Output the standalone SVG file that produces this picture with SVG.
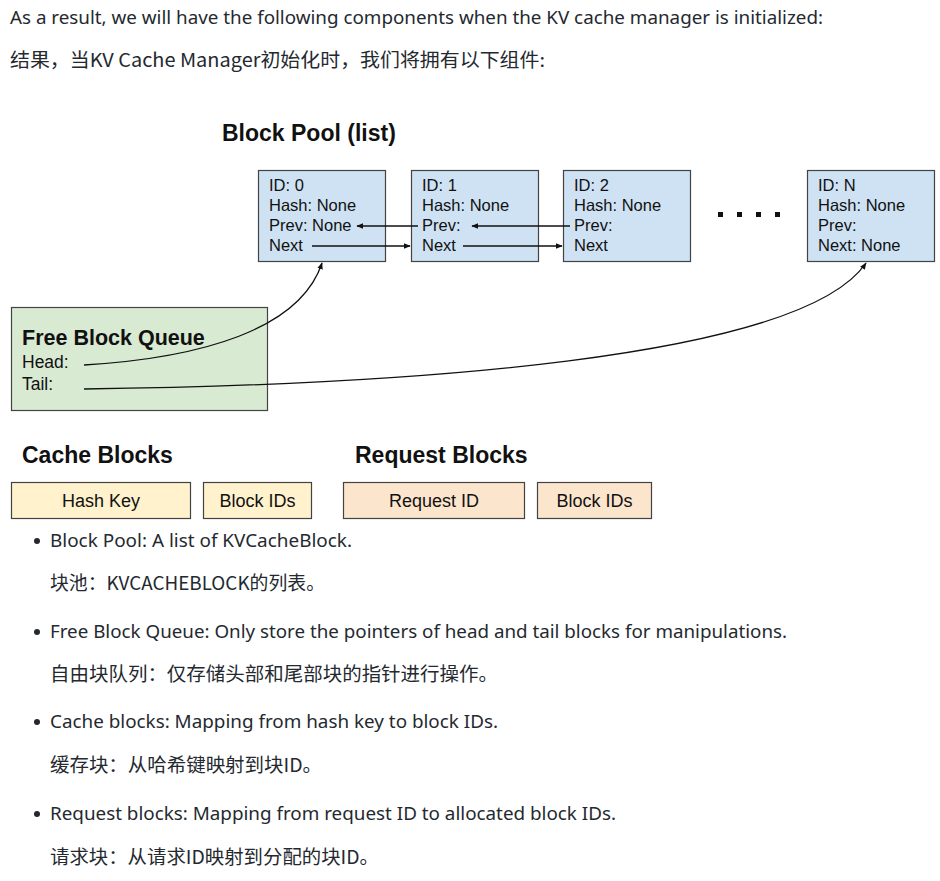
<svg xmlns="http://www.w3.org/2000/svg" width="940" height="881" viewBox="0 0 940 881">
<style>
.para{font-family:"Noto Sans","Noto Sans CJK SC",sans-serif;font-size:18.5px;fill:#24292f}
.cn{font-family:"Noto Sans CJK SC","Noto Sans",sans-serif;font-size:19px;fill:#24292f}
.box{fill:#cfe2f3;stroke:#434343;stroke-width:1.2}
.t{font-family:"Liberation Sans",Arial,sans-serif;font-size:16.5px;fill:#111}
.lbl{font-family:"Liberation Sans",Arial,sans-serif;font-size:18px;fill:#111}
.h{font-family:"Liberation Sans",Arial,sans-serif;font-size:23px;font-weight:bold;fill:#111}
.ln{stroke:#111;stroke-width:1.3;fill:none}
</style>
<defs>
<marker id="ah" viewBox="0 0 10 10" refX="9" refY="5" markerWidth="7" markerHeight="7" orient="auto" markerUnits="userSpaceOnUse">
<path d="M0,1 L10,5 L0,9 Z" fill="#111"/>
</marker>
</defs>
<rect width="940" height="881" fill="#fff"/>
<text class="para" x="10" y="24" textLength="813" lengthAdjust="spacingAndGlyphs">As a result, we will have the following components when the KV cache manager is initialized:</text>
<text class="cn" x="10" y="67" textLength="535" lengthAdjust="spacingAndGlyphs">结果，当KV Cache Manager初始化时，我们将拥有以下组件:</text>

<text class="h" x="222" y="141">Block Pool (list)</text>
<g id="block0"><rect class="box" x="258.5" y="170.5" width="127" height="91"/>
<text class="t" x="269" y="191">ID: 0</text><text class="t" x="269" y="211">Hash: None</text><text class="t" x="269" y="231">Prev: None</text><text class="t" x="269" y="251">Next</text></g>
<g id="block1"><rect class="box" x="411.5" y="170.5" width="127" height="91"/>
<text class="t" x="422" y="191">ID: 1</text><text class="t" x="422" y="211">Hash: None</text><text class="t" x="422" y="231">Prev:</text><text class="t" x="422" y="251">Next</text></g>
<g id="block2"><rect class="box" x="563.5" y="170.5" width="127" height="91"/>
<text class="t" x="574" y="191">ID: 2</text><text class="t" x="574" y="211">Hash: None</text><text class="t" x="574" y="231">Prev:</text><text class="t" x="574" y="251">Next</text></g>
<g id="dots" fill="#111"><rect x="718" y="212" width="5" height="5"/><rect x="737" y="212" width="5" height="5"/><rect x="756" y="212" width="5" height="5"/><rect x="775" y="212" width="5" height="5"/></g>
<g id="blockN"><rect class="box" x="807.5" y="170.5" width="127" height="91"/>
<text class="t" x="818" y="191">ID: N</text><text class="t" x="818" y="211">Hash: None</text><text class="t" x="818" y="231">Prev:</text><text class="t" x="818" y="251">Next: None</text></g>

<g id="fbq"><rect x="11.5" y="307.5" width="256" height="103" fill="#d9ead3" stroke="#434343" stroke-width="1.2"/>
<text class="h" x="22" y="345" style="font-size:21.5px">Free Block Queue</text>
<text class="t" x="22" y="368" style="font-size:17.5px">Head:</text><text class="t" x="22" y="390" style="font-size:17.5px">Tail:</text></g>

<g id="connectors">
<line class="ln" x1="418" y1="226" x2="357" y2="226" marker-end="url(#ah)"/>
<line class="ln" x1="312" y1="246" x2="410" y2="246" marker-end="url(#ah)"/>
<line class="ln" x1="570" y1="226" x2="472" y2="226" marker-end="url(#ah)"/>
<line class="ln" x1="463" y1="246" x2="562" y2="246" marker-end="url(#ah)"/>
<path class="ln" d="M84,365 C200,358 300,330 322,263" marker-end="url(#ah)"/>
<path class="ln" d="M84,389 C400,385 800,360 866,263" marker-end="url(#ah)"/>
</g>

<text class="h" x="22" y="463">Cache Blocks</text>
<text class="h" x="355" y="463">Request Blocks</text>
<g id="hashkey"><rect x="11.5" y="482.5" width="179" height="36" fill="#fff2cc" stroke="#434343" stroke-width="1.2"/><text class="lbl" x="101" y="507" text-anchor="middle">Hash Key</text></g>
<g id="blockids1"><rect x="203.5" y="482.5" width="108" height="36" fill="#fff2cc" stroke="#434343" stroke-width="1.2"/><text class="lbl" x="257.5" y="507" text-anchor="middle">Block IDs</text></g>
<g id="requestid"><rect x="343.5" y="482.5" width="181" height="36" fill="#fce5cd" stroke="#434343" stroke-width="1.2"/><text class="lbl" x="434" y="507" text-anchor="middle">Request ID</text></g>
<g id="blockids2"><rect x="537.5" y="482.5" width="114" height="36" fill="#fce5cd" stroke="#434343" stroke-width="1.2"/><text class="lbl" x="594.5" y="507" text-anchor="middle">Block IDs</text></g>

<g fill="#24292f"><circle cx="37" cy="541" r="3"/><circle cx="37" cy="632" r="3"/><circle cx="37" cy="722" r="3"/><circle cx="37" cy="814" r="3"/></g>
<text class="para" x="50" y="547" textLength="302" lengthAdjust="spacingAndGlyphs">Block Pool: A list of KVCacheBlock.</text>
<text class="cn" x="50" y="590" textLength="275" lengthAdjust="spacingAndGlyphs">块池：KVCACHEBLOCK的列表。</text>
<text class="para" x="50" y="638" textLength="737" lengthAdjust="spacingAndGlyphs">Free Block Queue: Only store the pointers of head and tail blocks for manipulations.</text>
<text class="cn" x="50" y="681" textLength="448" lengthAdjust="spacingAndGlyphs">自由块队列：仅存储头部和尾部块的指针进行操作。</text>
<text class="para" x="50" y="728" textLength="448" lengthAdjust="spacingAndGlyphs">Cache blocks: Mapping from hash key to block IDs.</text>
<text class="cn" x="50" y="772" textLength="272" lengthAdjust="spacingAndGlyphs">缓存块：从哈希键映射到块ID。</text>
<text class="para" x="50" y="820" textLength="566" lengthAdjust="spacingAndGlyphs">Request blocks: Mapping from request ID to allocated block IDs.</text>
<text class="cn" x="50" y="864" textLength="329" lengthAdjust="spacingAndGlyphs">请求块：从请求ID映射到分配的块ID。</text>
</svg>
